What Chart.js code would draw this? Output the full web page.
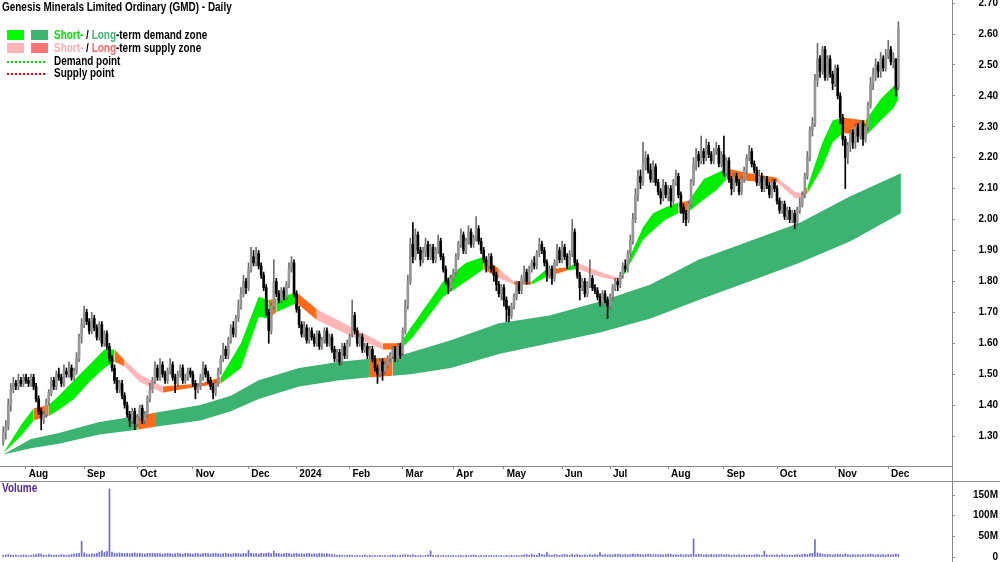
<!DOCTYPE html>
<html>
<head>
<meta charset="utf-8">
<script src="https://cdn.jsdelivr.net/npm/chart.js@4.4.1/dist/chart.umd.min.js"></script>
<style>
  html, body { margin: 0; padding: 0; background: #fff; }
  #wrap { position: relative; width: 1000px; height: 562px; overflow: hidden; font-family: 'Liberation Sans', Arial, sans-serif; font-weight: bold; font-size: 12px; line-height: 13px; color: #000; }
  canvas { position: absolute; left: 0; }
  #price { top: 0; }
  #volume { top: 481px; }
  .abs { position: absolute; white-space: nowrap; transform: scaleX(0.83); transform-origin: 0 0; }
  .sw { position: absolute; width: 17px; height: 10px; }
  .dots { position: absolute; width: 38px; height: 2px; }
  .vline { position: absolute; left: 952px; top: 0; width: 1px; height: 562px; background: #8a8a8a; }
  .hline { position: absolute; left: 0; top: 481px; width: 1000px; height: 1px; background: #8a8a8a; }
</style>
</head>
<body>
<div id="wrap">
  <canvas id="price" width="1000" height="481"></canvas>
  <canvas id="volume" width="1000" height="81"></canvas>
  <div class="vline"></div>
  <div class="hline"></div>

  <div class="abs" style="left:2px;top:1px;">Genesis Minerals Limited Ordinary (GMD) - Daily</div>

  <div class="sw" style="left:7px;top:30px;background:#00ff00;"></div>
  <div class="sw" style="left:31px;top:30px;background:#3cb371;"></div>
  <div class="abs" style="left:54px;top:29px;"><span style="color:#00e000">Short-</span> / <span style="color:#3cb371">Long</span>-term demand zone</div>

  <div class="sw" style="left:7px;top:43px;background:#ffb3b3;"></div>
  <div class="sw" style="left:31px;top:43px;background:#ff7373;"></div>
  <div class="abs" style="left:54px;top:42px;"><span style="color:#ffaaaa">Short-</span> / <span style="color:#ff6666">Long</span>-term supply zone</div>

  <div class="dots" style="left:7px;top:61px;background:repeating-linear-gradient(to right,#00dd00 0 2px,transparent 2px 4px);"></div>
  <div class="abs" style="left:54px;top:55px;">Demand point</div>

  <div class="dots" style="left:7px;top:73px;background:repeating-linear-gradient(to right,#ee0000 0 2px,transparent 2px 4px);"></div>
  <div class="abs" style="left:54px;top:67px;">Supply point</div>

  <div class="abs" style="left:2px;top:482px;color:#55299a;">Volume</div>
</div>

<script>
// trading calendar (ASX): first bar 19 Jul 2023
const firstDay = '2023-07-19';
const lastDay = '2024-12-31';
const holidays = ['2023-12-25', '2023-12-26', '2024-01-01', '2024-01-26', '2024-03-29',
                  '2024-04-01', '2024-04-25', '2024-06-10', '2024-12-25', '2024-12-26'];
const monthNames = ['Jan', 'Feb', 'Mar', 'Apr', 'May', 'Jun', 'Jul', 'Aug', 'Sep', 'Oct', 'Nov', 'Dec'];
const priceTicks = [1.3, 1.4, 1.5, 1.6, 1.7, 1.8, 1.9, 2.0, 2.1, 2.2, 2.3, 2.4, 2.5, 2.6, 2.7];
const volumeTicks = [0, 50, 100, 150];

// daily OHLC
const opens = [
1.28,1.31,1.33,1.40,1.45,1.47,1.46,1.48,1.47,1.49,
1.48,1.47,1.49,1.46,1.42,1.38,1.35,1.37,1.41,1.44,
1.48,1.46,1.50,1.49,1.47,1.51,1.50,1.52,1.49,1.51,
1.55,1.62,1.66,1.70,1.67,1.64,1.68,1.65,1.62,1.66,
1.60,1.63,1.59,1.55,1.52,1.48,1.45,1.47,1.43,1.40,
1.37,1.35,1.38,1.34,1.36,1.39,1.35,1.37,1.42,1.45,
1.48,1.52,1.49,1.53,1.50,1.48,1.51,1.53,1.49,1.47,
1.50,1.52,1.48,1.49,1.51,1.50,1.47,1.45,1.46,1.49,
1.52,1.50,1.48,1.46,1.44,1.47,1.51,1.55,1.58,1.56,
1.61,1.65,1.63,1.68,1.72,1.76,1.80,1.78,1.84,1.88,
1.86,1.89,1.85,1.82,1.78,1.70,1.64,1.72,1.80,1.76,
1.74,1.77,1.75,1.79,1.84,1.86,1.76,1.71,1.66,1.63,
1.65,1.61,1.64,1.62,1.60,1.63,1.59,1.61,1.64,1.60,
1.62,1.58,1.55,1.57,1.54,1.59,1.56,1.60,1.63,1.69,
1.64,1.60,1.62,1.58,1.59,1.56,1.58,1.55,1.52,1.50,
1.54,1.51,1.53,1.55,1.56,1.58,1.55,1.59,1.57,1.64,
1.72,1.80,1.92,1.88,1.95,1.90,1.87,1.89,1.92,1.88,
1.91,1.87,1.90,1.93,1.88,1.84,1.80,1.78,1.81,1.83,
1.88,1.92,1.95,1.90,1.93,1.96,1.92,1.94,1.97,1.93,
1.90,1.87,1.85,1.88,1.84,1.82,1.79,1.76,1.78,1.74,
1.71,1.69,1.72,1.75,1.79,1.77,1.81,1.83,1.80,1.84,
1.86,1.85,1.89,1.92,1.90,1.86,1.82,1.84,1.81,1.86,
1.90,1.87,1.91,1.88,1.85,1.89,1.96,1.86,1.82,1.78,
1.80,1.76,1.79,1.81,1.78,1.77,1.75,1.73,1.76,1.74,
1.72,1.75,1.78,1.80,1.79,1.82,1.85,1.84,1.89,1.93,
2.00,2.08,2.14,2.12,2.18,2.20,2.16,2.13,2.17,2.12,
2.09,2.07,2.11,2.08,2.10,2.06,2.12,2.14,2.08,2.04,
2.02,2.00,2.05,2.12,2.18,2.21,2.19,2.22,2.20,2.24,
2.21,2.19,2.22,2.23,2.18,2.21,2.15,2.19,2.13,2.10,
2.14,2.12,2.09,2.13,2.16,2.20,2.22,2.18,2.16,2.12,
2.14,2.10,2.13,2.11,2.08,2.12,2.10,2.06,2.03,2.05,
2.01,2.03,2.00,2.02,1.99,2.03,2.05,2.08,2.14,2.20,
2.29,2.31,2.45,2.52,2.48,2.55,2.46,2.52,2.47,2.44,
2.49,2.40,2.33,2.26,2.20,2.24,2.28,2.25,2.30,2.27,
2.31,2.26,2.30,2.37,2.44,2.47,2.50,2.48,2.52,2.49,
2.53,2.55,2.51,2.52,2.43
];
const highs = [
1.33,1.35,1.42,1.47,1.49,1.48,1.50,1.49,1.50,1.50,
1.49,1.50,1.50,1.47,1.43,1.39,1.38,1.42,1.45,1.49,
1.49,1.51,1.52,1.50,1.53,1.52,1.54,1.53,1.52,1.57,
1.63,1.68,1.72,1.71,1.68,1.70,1.69,1.66,1.67,1.67,
1.64,1.64,1.60,1.56,1.53,1.49,1.48,1.48,1.44,1.41,
1.38,1.39,1.39,1.37,1.40,1.40,1.38,1.43,1.47,1.49,
1.54,1.53,1.55,1.54,1.51,1.52,1.55,1.54,1.50,1.51,
1.53,1.53,1.50,1.52,1.52,1.51,1.48,1.47,1.50,1.54,
1.53,1.51,1.49,1.47,1.48,1.52,1.56,1.60,1.59,1.62,
1.66,1.67,1.69,1.74,1.78,1.82,1.81,1.86,1.91,1.90,
1.91,1.90,1.86,1.83,1.79,1.71,1.73,1.87,1.81,1.77,
1.78,1.78,1.80,1.86,1.88,1.87,1.77,1.72,1.67,1.67,
1.66,1.65,1.65,1.63,1.64,1.64,1.62,1.65,1.65,1.63,
1.63,1.59,1.58,1.58,1.60,1.60,1.61,1.63,1.74,1.70,
1.65,1.63,1.63,1.60,1.60,1.59,1.59,1.56,1.53,1.55,
1.55,1.54,1.56,1.57,1.59,1.59,1.60,1.60,1.65,1.74,
1.82,1.94,1.99,1.97,1.96,1.91,1.91,1.94,1.93,1.92,
1.92,1.91,1.95,1.94,1.89,1.85,1.81,1.82,1.84,1.89,
1.93,1.97,1.96,1.94,1.98,1.97,1.95,2.01,1.98,1.94,
1.91,1.88,1.89,1.89,1.85,1.83,1.80,1.79,1.79,1.75,
1.72,1.73,1.76,1.80,1.80,1.82,1.85,1.84,1.85,1.87,
1.88,1.90,1.94,1.93,1.91,1.87,1.85,1.85,1.87,1.92,
1.91,1.93,1.92,1.89,1.90,2.00,1.97,1.87,1.83,1.81,
1.81,1.80,1.87,1.82,1.79,1.78,1.76,1.77,1.77,1.75,
1.76,1.79,1.81,1.81,1.83,1.86,1.87,1.90,1.95,2.02,
2.10,2.16,2.16,2.25,2.22,2.21,2.18,2.19,2.18,2.13,
2.10,2.13,2.12,2.11,2.11,2.13,2.16,2.15,2.09,2.05,
2.03,2.06,2.13,2.20,2.23,2.22,2.27,2.23,2.26,2.25,
2.22,2.23,2.25,2.24,2.22,2.27,2.20,2.20,2.14,2.15,
2.15,2.13,2.14,2.17,2.21,2.24,2.23,2.19,2.17,2.16,
2.15,2.14,2.14,2.12,2.13,2.13,2.11,2.07,2.06,2.06,
2.04,2.04,2.03,2.03,2.04,2.07,2.09,2.15,2.22,2.30,
2.33,2.47,2.57,2.53,2.56,2.56,2.53,2.53,2.48,2.50,
2.50,2.41,2.34,2.27,2.25,2.29,2.29,2.31,2.31,2.32,
2.32,2.31,2.38,2.46,2.49,2.52,2.51,2.54,2.53,2.55,
2.58,2.56,2.54,2.52,2.64
];
const lows = [
1.27,1.29,1.32,1.38,1.44,1.45,1.45,1.46,1.46,1.47,
1.46,1.46,1.45,1.41,1.37,1.32,1.34,1.36,1.40,1.43,
1.45,1.45,1.48,1.46,1.46,1.49,1.49,1.48,1.48,1.50,
1.54,1.60,1.65,1.66,1.63,1.63,1.64,1.61,1.61,1.59,
1.59,1.58,1.54,1.51,1.47,1.44,1.44,1.42,1.39,1.36,
1.33,1.34,1.32,1.33,1.35,1.34,1.34,1.36,1.41,1.44,
1.47,1.48,1.48,1.49,1.47,1.47,1.50,1.48,1.44,1.46,
1.49,1.47,1.47,1.48,1.49,1.46,1.42,1.44,1.45,1.48,
1.49,1.47,1.45,1.42,1.43,1.46,1.50,1.54,1.55,1.55,
1.60,1.62,1.62,1.67,1.71,1.75,1.76,1.77,1.83,1.85,
1.85,1.84,1.81,1.77,1.69,1.60,1.63,1.71,1.75,1.73,
1.73,1.74,1.74,1.78,1.83,1.75,1.70,1.65,1.62,1.62,
1.60,1.60,1.61,1.59,1.59,1.58,1.58,1.60,1.59,1.59,
1.57,1.54,1.54,1.53,1.53,1.55,1.55,1.59,1.62,1.63,
1.59,1.59,1.57,1.57,1.55,1.55,1.54,1.51,1.47,1.49,
1.48,1.50,1.52,1.54,1.55,1.54,1.54,1.55,1.56,1.63,
1.71,1.79,1.86,1.87,1.89,1.85,1.86,1.88,1.87,1.87,
1.86,1.86,1.89,1.87,1.83,1.79,1.76,1.77,1.80,1.82,
1.87,1.91,1.89,1.89,1.92,1.91,1.91,1.93,1.92,1.89,
1.86,1.83,1.84,1.83,1.80,1.77,1.75,1.74,1.72,1.67,
1.67,1.68,1.71,1.74,1.76,1.76,1.80,1.79,1.79,1.83,
1.84,1.84,1.88,1.89,1.85,1.80,1.81,1.79,1.80,1.85,
1.86,1.86,1.87,1.84,1.84,1.88,1.85,1.81,1.74,1.77,
1.75,1.75,1.78,1.77,1.76,1.74,1.72,1.72,1.73,1.68,
1.71,1.74,1.77,1.77,1.78,1.81,1.83,1.83,1.88,1.92,
1.99,2.06,2.10,2.11,2.16,2.15,2.12,2.12,2.11,2.08,
2.05,2.06,2.07,2.06,2.04,2.05,2.11,2.07,2.02,1.99,
1.98,1.99,2.04,2.11,2.16,2.17,2.18,2.18,2.19,2.20,
2.18,2.18,2.21,2.17,2.17,2.14,2.14,2.12,2.08,2.09,
2.11,2.08,2.08,2.12,2.15,2.19,2.17,2.15,2.11,2.11,
2.09,2.09,2.10,2.07,2.07,2.09,2.05,2.02,2.02,2.00,
2.00,1.99,1.99,1.97,1.98,2.02,2.04,2.07,2.13,2.19,
2.27,2.30,2.43,2.46,2.47,2.45,2.45,2.46,2.42,2.43,
2.39,2.31,2.24,2.10,2.18,2.22,2.23,2.23,2.25,2.26,
2.24,2.25,2.29,2.36,2.42,2.45,2.46,2.46,2.48,2.48,
2.52,2.50,2.49,2.40,2.42
];
const closes = [
1.31,1.33,1.40,1.45,1.47,1.46,1.48,1.47,1.49,1.48,
1.47,1.49,1.46,1.42,1.38,1.36,1.37,1.41,1.44,1.48,
1.46,1.50,1.49,1.47,1.51,1.50,1.52,1.49,1.51,1.55,
1.62,1.66,1.70,1.67,1.64,1.68,1.65,1.62,1.66,1.60,
1.63,1.59,1.55,1.52,1.48,1.45,1.47,1.43,1.40,1.37,
1.35,1.38,1.34,1.36,1.39,1.35,1.37,1.42,1.45,1.48,
1.52,1.49,1.53,1.50,1.48,1.51,1.53,1.49,1.47,1.50,
1.52,1.48,1.49,1.51,1.50,1.47,1.45,1.46,1.49,1.52,
1.50,1.48,1.46,1.44,1.47,1.51,1.55,1.58,1.56,1.61,
1.65,1.63,1.68,1.72,1.76,1.80,1.78,1.84,1.88,1.86,
1.89,1.85,1.82,1.78,1.70,1.64,1.72,1.80,1.76,1.74,
1.77,1.75,1.79,1.84,1.86,1.76,1.71,1.66,1.63,1.65,
1.61,1.64,1.62,1.60,1.63,1.59,1.61,1.64,1.60,1.62,
1.58,1.55,1.57,1.54,1.59,1.56,1.60,1.62,1.69,1.64,
1.60,1.62,1.58,1.59,1.56,1.58,1.55,1.52,1.50,1.54,
1.51,1.53,1.55,1.56,1.58,1.55,1.59,1.56,1.64,1.72,
1.80,1.92,1.88,1.95,1.90,1.87,1.89,1.92,1.88,1.91,
1.87,1.90,1.93,1.88,1.84,1.80,1.78,1.81,1.83,1.88,
1.92,1.95,1.90,1.93,1.96,1.92,1.94,1.97,1.93,1.90,
1.87,1.85,1.88,1.84,1.82,1.79,1.76,1.78,1.74,1.71,
1.69,1.72,1.75,1.79,1.77,1.81,1.83,1.80,1.84,1.86,
1.85,1.89,1.92,1.90,1.86,1.82,1.84,1.81,1.86,1.90,
1.87,1.91,1.88,1.85,1.89,1.96,1.86,1.82,1.78,1.80,
1.76,1.79,1.81,1.78,1.77,1.75,1.73,1.76,1.74,1.72,
1.75,1.78,1.80,1.79,1.82,1.85,1.84,1.89,1.93,2.00,
2.08,2.14,2.12,2.18,2.20,2.16,2.13,2.17,2.12,2.09,
2.07,2.11,2.08,2.10,2.06,2.12,2.14,2.08,2.04,2.02,
2.00,2.05,2.12,2.18,2.21,2.19,2.22,2.20,2.24,2.21,
2.19,2.22,2.23,2.18,2.21,2.15,2.19,2.13,2.10,2.14,
2.12,2.09,2.13,2.16,2.20,2.22,2.18,2.16,2.12,2.14,
2.10,2.13,2.11,2.08,2.12,2.10,2.06,2.03,2.05,2.01,
2.03,2.00,2.02,1.99,2.03,2.05,2.08,2.14,2.20,2.29,
2.31,2.45,2.52,2.48,2.55,2.46,2.52,2.47,2.44,2.49,
2.40,2.33,2.26,2.20,2.24,2.28,2.25,2.30,2.27,2.31,
2.26,2.30,2.37,2.44,2.47,2.50,2.48,2.52,2.49,2.53,
2.55,2.51,2.52,2.42,2.62
];
// daily volume, millions of shares
const volumes = [
4,5,6,5,4,5,3,4,5,4,
3,4,5,6,8,7,5,4,6,5,
4,5,4,6,5,4,5,6,7,8,
9,38,10,7,6,8,7,9,12,15,
11,14,165,12,9,8,10,9,8,9,
8,9,10,8,9,8,7,9,8,9,
8,9,8,7,8,9,8,7,8,9,
8,7,9,8,8,7,9,8,7,8,
9,8,7,8,9,8,7,8,9,8,
7,8,9,8,7,9,8,16,9,8,
8,7,9,8,9,10,8,14,9,8,
7,8,9,8,7,8,9,7,8,7,
8,9,7,8,7,9,8,7,8,7,
6,5,4,5,4,3,4,5,4,3,
4,3,4,5,3,4,3,4,3,4,
3,4,3,4,5,4,3,4,5,6,
5,4,5,4,3,4,3,4,5,15,
4,3,4,3,4,3,4,3,4,3,
3,4,3,4,3,4,5,4,3,4,
3,4,3,4,3,4,3,4,3,4,
3,4,3,4,3,4,5,6,4,7,
5,4,9,6,5,11,5,4,6,5,
4,5,6,5,4,7,5,6,5,4,
5,4,6,5,6,5,11,5,6,5,
6,5,6,7,6,5,6,5,6,7,
6,7,6,5,6,7,6,5,6,5,
6,5,6,7,6,5,6,5,6,5,
6,5,6,44,6,7,6,5,6,5,
6,5,6,5,6,5,6,5,4,5,
4,5,4,5,4,5,4,5,6,5,
4,14,5,4,5,4,5,4,6,5,
4,5,4,5,6,5,6,7,6,8,
9,42,10,8,7,6,7,6,5,6,
7,6,5,8,6,5,6,5,6,5,
6,5,6,7,6,5,6,5,6,5,
6,5,6,7,6
];

// short-term zone (bar index, upper, lower, zone type: D demand, S supply, T turning)
const shortZoneX = [0, 7, 12, 18, 22, 28, 34, 40, 44, 48, 54, 63, 70, 78, 86, 94, 101, 105, 108, 116,
  124, 137, 150, 157, 162, 174, 183, 190, 196, 202, 209, 215, 223, 227, 236, 244, 253, 257, 262, 267,
  271, 277, 282, 286, 295, 306, 313, 316, 318, 324, 328, 332, 341, 347, 352, 354];
const shortZoneTop = [1.245, 1.335, 1.39, 1.40, 1.43, 1.48, 1.53, 1.58, 1.58, 1.545, 1.50, 1.46, 1.465, 1.47, 1.49, 1.60, 1.75, 1.74, 1.745, 1.765,
  1.71, 1.655, 1.60, 1.60, 1.66, 1.80, 1.86, 1.88, 1.84, 1.80, 1.80, 1.84, 1.845, 1.86, 1.83, 1.81, 1.975, 2.02, 2.04, 2.055,
  2.06, 2.13, 2.15, 2.165, 2.15, 2.135, 2.09, 2.085, 2.105, 2.25, 2.32, 2.33, 2.32, 2.39, 2.43, 2.44];
const shortZoneBottom = [1.245, 1.30, 1.35, 1.365, 1.385, 1.42, 1.475, 1.52, 1.54, 1.525, 1.475, 1.44, 1.45, 1.46, 1.47, 1.52, 1.685, 1.68, 1.70, 1.73,
  1.675, 1.625, 1.58, 1.58, 1.62, 1.75, 1.80, 1.84, 1.81, 1.79, 1.79, 1.815, 1.835, 1.84, 1.815, 1.80, 1.935, 1.965, 2.00, 2.02,
  2.025, 2.065, 2.095, 2.13, 2.125, 2.12, 2.07, 2.07, 2.085, 2.17, 2.25, 2.28, 2.27, 2.32, 2.36, 2.39];
const shortZoneType = ['D','D','T','D','D','D','D','D','T','S','S','T','T','T','D','D','D','T','D','T',
  'S','S','T','D','D','D','D','T','S','T','D','T','D','S','S','D','D','D','D','T',
  'D','D','D','T','T','S','S','T','D','D','D','T','D','D','D','D'];

// long-term zone
const longZoneX = [0, 11, 22, 38, 53, 60, 78, 90, 101, 117, 133, 145, 154, 161, 177, 196, 216, 236, 256, 275, 295, 315, 335, 355];
const longZoneTop = [1.24, 1.29, 1.31, 1.345, 1.365, 1.375, 1.40, 1.43, 1.48, 1.52, 1.54, 1.55, 1.555, 1.57, 1.61, 1.665, 1.69, 1.735, 1.79, 1.87, 1.93, 1.99, 2.075, 2.15];
const longZoneBottom = [1.24, 1.26, 1.275, 1.305, 1.32, 1.33, 1.35, 1.38, 1.42, 1.46, 1.48, 1.49, 1.495, 1.50, 1.52, 1.565, 1.60, 1.635, 1.68, 1.74, 1.80, 1.86, 1.93, 2.02];
const longZoneType = ['D','D','D','D','T','D','D','D','D','D','D','T','D','D','D','D','D','D','D','D','D','D','D','D'];

// --- calendar ---
const tradingDays = [];
for (let d = new Date(firstDay + 'T00:00:00Z'); d <= new Date(lastDay + 'T00:00:00Z'); d.setUTCDate(d.getUTCDate() + 1)) {
    const iso = d.toISOString().slice(0, 10);
    const dow = d.getUTCDay();
    if (dow === 0 || dow === 6 || holidays.includes(iso)) continue;
    tradingDays.push(iso);
}
const monthStarts = [];
for (let i = 1; i < tradingDays.length; i++) {
    if (tradingDays[i].slice(5, 7) !== tradingDays[i - 1].slice(5, 7)) {
        const m = parseInt(tradingDays[i].slice(5, 7), 10) - 1;
        monthStarts.push({ value: i, label: m === 0 ? tradingDays[i].slice(0, 4) : monthNames[m] });
    }
}

// --- styles ---
const AXIS = '#8a8a8a';
const X_MIN = -1.28, X_MAX = 375.2;
const shortPalette = { D: '#00ee00', S: '#ffb6b6', T: '#ff6b1a' };
const longPalette = { D: '#3cb371', T: '#ff6b1a' };
const upBody = '#969696', upWick = '#6e6e6e', downColor = '#000000';

Chart.defaults.font.family = "'Liberation Sans', Arial, sans-serif";
Chart.defaults.font.size = 10;
Chart.defaults.font.weight = 'bold';
Chart.defaults.color = '#000';

function zoneDatasets(xs, top, bottom, types, palette) {
    return [
        {
            type: 'line',
            data: xs.map((x, k) => ({ x: x, y: top[k] })),
            fill: '+1',
            backgroundColor: palette[types[0]],
            segment: { backgroundColor: c => palette[types[c.p0DataIndex]] },
            borderColor: 'transparent',
            borderWidth: 0,
            pointRadius: 0,
            tension: 0,
            order: 10
        },
        {
            type: 'line',
            data: xs.map((x, k) => ({ x: x, y: bottom[k] })),
            fill: false,
            borderColor: 'transparent',
            borderWidth: 0,
            pointRadius: 0,
            tension: 0,
            order: 10
        }
    ];
}

const isUp = i => closes[i] >= opens[i];

const wickData = closes.map((c, i) => ({ x: i, y: [lows[i], highs[i]] }));
const bodyData = closes.map((c, i) => ({ x: i, y: [opens[i], closes[i]] }));
const volumeData = volumes.map((v, i) => ({ x: i, y: v }));

new Chart(document.getElementById('price'), {
    type: 'bar',
    data: {
        datasets: [
            ...zoneDatasets(longZoneX, longZoneTop, longZoneBottom, longZoneType, longPalette),
            ...zoneDatasets(shortZoneX, shortZoneTop, shortZoneBottom, shortZoneType, shortPalette),
            {
                type: 'bar',
                data: wickData,
                barThickness: 1,
                grouped: false,
                backgroundColor: c => isUp(c.dataIndex) ? upWick : downColor,
                borderWidth: 0,
                order: 2
            },
            {
                type: 'bar',
                data: bodyData,
                barThickness: 2,
                grouped: false,
                minBarLength: 1,
                backgroundColor: c => isUp(c.dataIndex) ? upBody : downColor,
                borderWidth: 0,
                order: 1
            }
        ]
    },
    options: {
        responsive: false,
        animation: false,
        devicePixelRatio: 1,
        layout: { padding: { left: 0, top: 0, right: 2, bottom: 0 } },
        plugins: { legend: { display: false }, tooltip: { enabled: false } },
        scales: {
            x: {
                type: 'linear',
                min: X_MIN,
                max: X_MAX,
                offset: false,
                grid: { display: true, drawOnChartArea: false, tickLength: 3, color: AXIS, offset: false },
                border: { display: true, color: AXIS },
                ticks: {
                    autoSkip: false, maxRotation: 0, minRotation: 0, align: 'start', padding: -1,
                    callback: v => ' ' + (monthStarts.find(m => m.value === v) || { label: '' }).label
                },
                afterBuildTicks: axis => { axis.ticks = monthStarts.map(m => ({ value: m.value })); },
                afterFit: s => { s.height = 15; s.paddingLeft = 0; s.paddingRight = 0; }
            },
            y: {
                position: 'right',
                min: 1.203,
                max: 2.71,
                grid: { display: true, drawOnChartArea: false, tickLength: 3, color: AXIS },
                border: { display: true, color: AXIS },
                ticks: { crossAlign: 'far', padding: 22, autoSkip: false, callback: v => v.toFixed(2) },
                afterBuildTicks: axis => { axis.ticks = priceTicks.map(v => ({ value: v })); },
                afterFit: s => { s.width = 46; s.paddingTop = 0; s.paddingBottom = 0; }
            }
        }
    }
});

new Chart(document.getElementById('volume'), {
    type: 'bar',
    data: {
        datasets: [{
            data: volumeData,
            barThickness: 1,
            backgroundColor: '#6b6bd2',
            borderWidth: 0
        }]
    },
    options: {
        responsive: false,
        animation: false,
        devicePixelRatio: 1,
        layout: { padding: { left: 0, top: 0, right: 2, bottom: 5 } },
        plugins: { legend: { display: false }, tooltip: { enabled: false } },
        scales: {
            x: { type: 'linear', min: X_MIN, max: X_MAX, offset: false, display: false },
            y: {
                position: 'right',
                min: 0,
                max: 184,
                grid: { display: true, drawOnChartArea: false, tickLength: 3, color: AXIS },
                border: { display: true, color: AXIS },
                ticks: { crossAlign: 'far', padding: 17, autoSkip: false, callback: v => v === 0 ? '0' : v + 'M' },
                afterBuildTicks: axis => { axis.ticks = volumeTicks.map(v => ({ value: v })); },
                afterFit: s => { s.width = 46; s.paddingTop = 0; s.paddingBottom = 0; }
            }
        }
    }
});
</script>
</body>
</html>
